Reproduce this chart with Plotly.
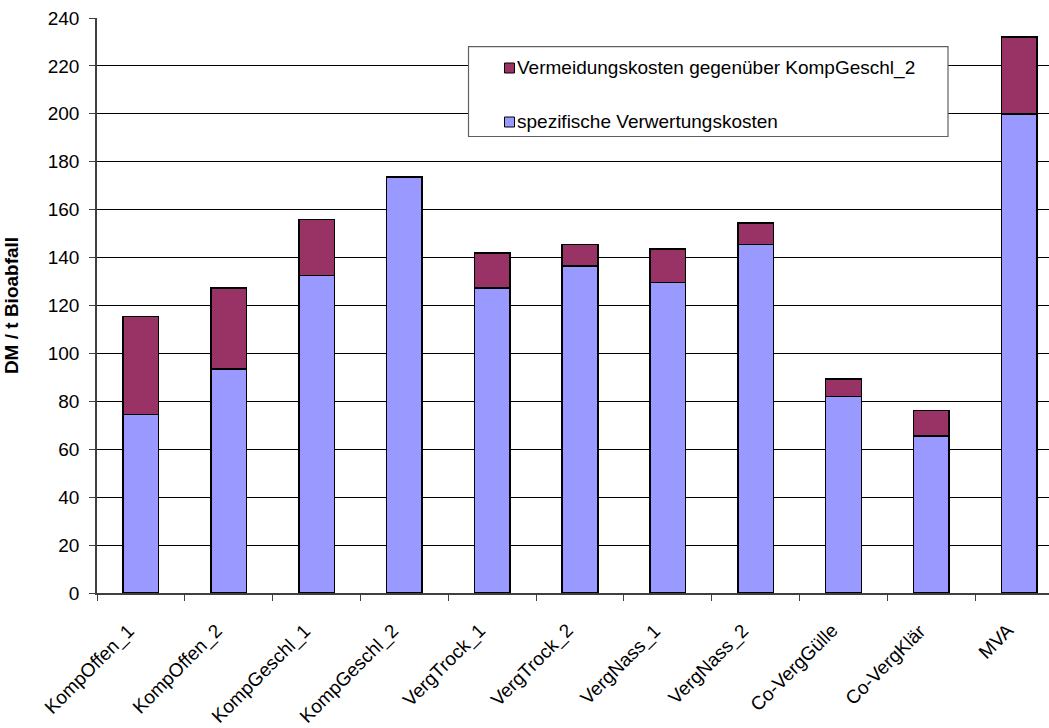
import plotly.graph_objects as go

# Kosten der Bioabfallverwertung (DM je Tonne)
categories = [
    "KompOffen_1", "KompOffen_2", "KompGeschl_1", "KompGeschl_2",
    "VergTrock_1", "VergTrock_2", "VergNass_1", "VergNass_2",
    "Co-VergGülle", "Co-VergKlär", "MVA",
]
spez_kosten = [74.5, 93.5, 132.5, 173.7, 127.3, 136.4, 129.5, 145.5, 82.1, 65.5, 200.0]
vermeidung = [41.0, 33.9, 23.3, 0.0, 14.7, 9.1, 14.0, 9.0, 7.3, 10.6, 32.0]

y_ticks = list(range(0, 241, 20))

series_names = [
    "spezifische Verwertungskosten",
    "Vermeidungskosten gegenüber KompGeschl_2",
]
series_colors = ["#9999FF", "#993366"]

FONT = "Arial, Liberation Sans, sans-serif"
W, H = 1049, 728
M_L, M_R, M_T, M_B = 97, 0, 18, 135


def paper_x(px):
    return (px - M_L) / (W - M_L - M_R)


def paper_y(py):
    return (H - M_B - py) / (H - M_T - M_B)


fig = go.Figure()
for name, vals, col in zip(series_names, [spez_kosten, vermeidung], series_colors):
    fig.add_trace(go.Bar(
        x=categories, y=vals, name=name,
        marker=dict(color=col, line=dict(color="#000000", width=1.5)),
        width=0.405, showlegend=False,
    ))

# Legendenkasten mit Farbfeldern
shapes = [dict(
    type="rect", xref="paper", yref="paper",
    x0=paper_x(468.5), x1=paper_x(948), y0=paper_y(136.5), y1=paper_y(46.7),
    line=dict(color="#606060", width=1.2), fillcolor="#FFFFFF", layer="above",
)]
annotations = []
legend_rows = [(series_names[1], series_colors[1], 68.0), (series_names[0], series_colors[0], 122.0)]
for text, col, cy in legend_rows:
    shapes.append(dict(
        type="rect", xref="paper", yref="paper",
        x0=paper_x(504.5), x1=paper_x(514.5), y0=paper_y(cy + 5), y1=paper_y(cy - 5),
        line=dict(color="#000000", width=1), fillcolor=col, layer="above",
    ))
    annotations.append(dict(
        text=text, xref="paper", yref="paper", x=paper_x(514.5), y=paper_y(cy),
        xanchor="left", yanchor="middle", showarrow=False,
        font=dict(family=FONT, size=19, color="#000000"),
    ))

# Schräg gestellte Kategoriebeschriftungen unter der x-Achse
for cat in categories:
    annotations.append(dict(
        text=cat, xref="x", yref="paper", x=cat, y=paper_y(617),
        xanchor="right", yanchor="top", xshift=1, textangle=-45,
        showarrow=False, font=dict(family=FONT, size=19, color="#000000"),
    ))

fig.update_layout(
    width=W, height=H,
    margin=dict(l=M_L, r=M_R, t=M_T, b=M_B, pad=0),
    paper_bgcolor="#FFFFFF", plot_bgcolor="#FFFFFF",
    barmode="stack", bargap=0.595,
    font=dict(family=FONT, size=19, color="#000000"),
    shapes=shapes, annotations=annotations,
    xaxis=dict(
        type="category", range=[-0.5, 10.34],
        tickson="boundaries", ticks="outside", ticklen=6, tickcolor="#404040",
        showticklabels=False,
        showline=True, linecolor="#404040", linewidth=1.5,
        showgrid=False, zeroline=False,
    ),
    yaxis=dict(
        range=[0, 240], tickvals=y_ticks, ticktext=[str(v) for v in y_ticks],
        ticks="outside", ticklen=6, tickcolor="#404040",
        tickfont=dict(family=FONT, size=19, color="#000000"),
        ticklabelstandoff=6,
        showline=True, linecolor="#404040", linewidth=1.5,
        showgrid=True, gridcolor="#000000", gridwidth=1,
        zeroline=False,
        title=dict(text="<b>DM / t Bioabfall</b>", standoff=24,
                   font=dict(family=FONT, size=19, color="#000000")),
    ),
)

fig.write_html("out.html")
